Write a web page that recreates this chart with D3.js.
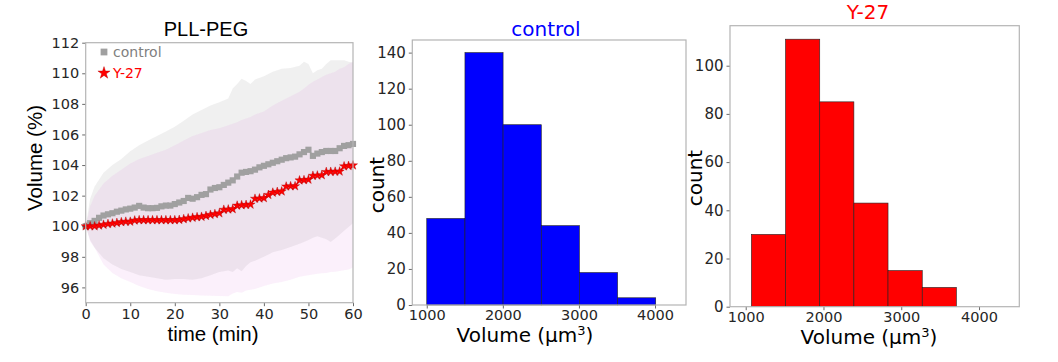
<!DOCTYPE html>
<html>
<head>
<meta charset="utf-8">
<script src="https://cdn.jsdelivr.net/npm/d3@7"></script>
<style>
  body { margin: 0; background: #fff; }
  svg { display: block; }
</style>
</head>
<body>
<svg id="vis"></svg>
<script>
const WIDTH = 1058;
const HEIGHT = 362;

// ---- panel 1 : volume (%) over time ----
const minutes = d3.range(0, 61);
const controlMean = [
  100.0, 100.2, 100.35, 100.55, 100.7, 100.78, 100.85, 100.95, 101.02, 101.1,
  101.15, 101.22, 101.33, 101.22, 101.18, 101.18, 101.2, 101.3, 101.35, 101.35,
  101.45, 101.55, 101.65, 101.85, 101.8, 101.9, 102.05, 102.1, 102.4, 102.5,
  102.55, 102.7, 102.85, 103.0, 103.25, 103.5, 103.55, 103.6, 103.7, 103.85,
  103.95, 104.05, 104.15, 104.25, 104.35, 104.45, 104.5, 104.55, 104.7, 104.85,
  105.0, 104.6, 104.75, 104.85, 104.92, 104.92, 104.92, 105.1, 105.25, 105.3,
  105.38
];
const y27Mean = [
  100.0, 100.0, 100.0, 100.05, 100.1, 100.15, 100.18, 100.22, 100.27, 100.3,
  100.3, 100.38, 100.4, 100.4, 100.4, 100.4, 100.4, 100.4, 100.4, 100.4,
  100.4, 100.42, 100.47, 100.52, 100.56, 100.6, 100.62, 100.68, 100.75, 100.8,
  100.85, 101.08, 101.1, 101.12, 101.35, 101.38, 101.4, 101.42, 101.8, 101.82,
  101.84, 102.05, 102.2, 102.25, 102.28, 102.6, 102.62, 102.62, 103.0, 103.02,
  103.05, 103.3, 103.32, 103.34, 103.55, 103.56, 103.57, 103.58, 103.92, 103.95,
  103.98
];

// mean +/- std envelopes, read at these times
const bandTime = [0, 1, 2, 4, 6, 8, 10, 12, 14, 16, 18, 20, 22, 24, 26, 28, 30, 32, 33, 34, 35,
  36, 37, 38, 40, 42, 44, 46, 48, 49, 50, 51, 52, 53, 54, 55, 56, 57, 58, 59, 60];
const controlUpper = [100.0, 101.8, 102.6, 103.5, 104.0, 104.4, 104.9, 105.3, 105.6, 105.9, 106.2,
  106.5, 106.9, 107.3, 107.6, 107.9, 108.1, 108.35, 109.0, 109.3, 109.65, 109.5, 109.3, 109.6,
  109.8, 110.1, 110.3, 110.35, 110.5, 110.75, 110.6, 110.0, 110.2, 110.3, 110.6, 110.85, 110.85,
  110.85, 110.85, 110.75, 110.7];
const controlLower = [100.0, 99.1, 98.6, 97.9, 97.5, 97.2, 97.0, 96.8, 96.7, 96.6, 96.5, 96.55,
  96.55, 96.5, 96.6, 96.8, 97.0, 97.1, 97.0, 97.25, 97.05, 97.4, 97.65, 97.75, 98.0, 98.3, 98.45,
  98.65, 98.85, 98.97, 99.1, 99.25, 99.35, 99.25, 99.15, 98.97, 99.2, 99.45, 99.7, 99.95, 100.2];
const y27Upper = [100.0, 101.3, 102.0, 102.8, 103.3, 103.7, 104.1, 104.4, 104.6, 104.8, 105.0,
  105.3, 105.6, 105.9, 106.1, 106.3, 106.4, 106.6, 106.7, 106.8, 106.95, 107.05, 107.15, 107.3,
  107.5, 107.9, 108.2, 108.5, 108.8, 109.0, 109.25, 109.45, 109.6, 109.75, 109.9, 110.0, 110.1,
  110.3, 110.4, 110.6, 110.75];
const y27Lower = [100.0, 99.0, 98.6, 97.5, 96.95, 96.6, 96.36, 96.1, 95.9, 95.75, 95.65, 95.57,
  95.52, 95.5, 95.47, 95.45, 95.44, 95.42, 95.6, 95.7, 95.65, 95.8, 95.85, 95.9, 96.1, 96.25,
  96.36, 96.5, 96.7, 96.75, 96.8, 96.85, 96.9, 96.93, 96.95, 97.0, 97.02, 97.07, 97.12, 97.17,
  97.3];

const volTicks = [96, 98, 100, 102, 104, 106, 108, 110, 112];
const timeTicks = [0, 10, 20, 30, 40, 50, 60];

// ---- panels 2 and 3 : histograms ----
const controlEdges = [1000, 1502, 2003, 2505, 3006, 3508, 4009];
const controlCounts = [48, 140, 100, 44, 18, 4];
const y27Edges = [1073, 1512, 1952, 2391, 2830, 3270, 3709];
const y27Counts = [30, 111, 85, 43, 15, 8];
const volumeTicks = [1000, 2000, 3000, 4000];
const controlCountTicks = [0, 20, 40, 60, 80, 100, 120, 140];
const y27CountTicks = [0, 20, 40, 60, 80, 100];

const svg = d3.select("#vis")
  .attr("width", WIDTH)
  .attr("height", HEIGHT);

const SANS = "'DejaVu Sans', sans-serif";
const ARIAL = "'Liberation Sans', Arial, sans-serif";
const TICK_COLOR = "#262626";
const SPINE = "#b4b4b4";

function styleAxis(g, size) {
  g.select(".domain").remove();
  g.selectAll(".tick line").attr("stroke", "#444").attr("stroke-width", 0.8);
  g.selectAll(".tick text")
    .attr("font-family", SANS)
    .attr("font-size", size)
    .attr("fill", TICK_COLOR);
}

function frame(box) {
  svg.append("rect")
    .attr("x", box.left)
    .attr("y", box.top)
    .attr("width", box.right - box.left)
    .attr("height", box.bottom - box.top)
    .attr("fill", "none")
    .attr("stroke", SPINE)
    .attr("stroke-width", 1.2);
}

// ================= panel 1 =================
const p1 = { left: 85.7, right: 353, top: 42.7, bottom: 302.7 };
const x1 = d3.scaleLinear().domain([0, 60]).range([p1.left, p1.right]);
const y1 = d3.scaleLinear().domain([95, 112]).range([p1.bottom, p1.top]);

const bandArea = (upper, lower) => d3.area()
  .x((d, i) => x1(bandTime[i]))
  .y0((d, i) => y1(lower[i]))
  .y1((d, i) => y1(upper[i]));

const g1 = svg.append("g").attr("id", "panel1");

g1.append("path")
  .attr("d", bandArea(controlUpper, controlLower)(bandTime))
  .attr("fill", "#808080")
  .attr("fill-opacity", 0.12);

g1.append("path")
  .attr("d", bandArea(y27Upper, y27Lower)(bandTime))
  .attr("fill", "#da70d6")
  .attr("fill-opacity", 0.1);

const meanLine = values => d3.line()
  .x((d, i) => x1(minutes[i]))
  .y((d, i) => y1(values[i]));

g1.append("path")
  .attr("d", meanLine(controlMean)(minutes))
  .attr("fill", "none")
  .attr("stroke", "#a0a0a0")
  .attr("stroke-width", 1.5);

g1.selectAll(".sq")
  .data(minutes)
  .join("path")
  .attr("class", "sq")
  .attr("transform", (d, i) => `translate(${x1(d)},${y1(controlMean[i])})`)
  .attr("d", d3.symbol(d3.symbolSquare, 38)())
  .attr("fill", "#a0a0a0");

g1.append("path")
  .attr("d", meanLine(y27Mean)(minutes))
  .attr("fill", "none")
  .attr("stroke", "#ff0000")
  .attr("stroke-width", 1.2);

g1.selectAll(".star")
  .data(minutes)
  .join("path")
  .attr("class", "star")
  .attr("transform", (d, i) => `translate(${x1(d)},${y1(y27Mean[i])})`)
  .attr("d", d3.symbol(d3.symbolStar, 26)())
  .attr("fill", "#ff0000")
  .attr("stroke", "#b00000")
  .attr("stroke-width", 0.4);

frame(p1);

g1.append("g")
  .attr("transform", `translate(${p1.left},0)`)
  .call(d3.axisLeft(y1).tickValues(volTicks).tickSize(3.5).tickPadding(3))
  .call(g => styleAxis(g, 14.5));

g1.append("g")
  .attr("transform", `translate(0,${p1.bottom})`)
  .call(d3.axisBottom(x1).tickValues(timeTicks).tickSize(3.5).tickPadding(3))
  .call(g => styleAxis(g, 14.5));

// legend
g1.append("path")
  .attr("transform", "translate(104,52)")
  .attr("d", d3.symbol(d3.symbolSquare, 46)())
  .attr("fill", "#a0a0a0");
g1.append("text")
  .attr("x", 113).attr("y", 57)
  .attr("font-family", SANS).attr("font-size", 14)
  .attr("fill", "#808080")
  .text("control");
g1.append("path")
  .attr("transform", "translate(104,73)")
  .attr("d", d3.symbol(d3.symbolStar, 46)())
  .attr("fill", "#ff0000")
  .attr("stroke", "#b00000")
  .attr("stroke-width", 0.4);
g1.append("text")
  .attr("x", 113).attr("y", 78)
  .attr("font-family", SANS).attr("font-size", 14)
  .attr("fill", "#ff0000")
  .text("Y-27");

g1.append("text")
  .attr("x", 206).attr("y", 36)
  .attr("text-anchor", "middle")
  .attr("font-family", ARIAL).attr("font-size", 20)
  .attr("fill", "#000")
  .text("PLL-PEG");

g1.append("text")
  .attr("transform", "translate(42,158) rotate(-90)")
  .attr("text-anchor", "middle")
  .attr("font-family", ARIAL).attr("font-size", 20.5)
  .attr("fill", "#000")
  .text("Volume (%)");

g1.append("text")
  .attr("x", 213).attr("y", 341)
  .attr("text-anchor", "middle")
  .attr("font-family", ARIAL).attr("font-size", 20.5)
  .attr("fill", "#000")
  .text("time (min)");

// ================= histograms =================
function histogram(opts) {
  const box = opts.box;
  const x = d3.scaleLinear().domain(opts.xDomain).range([box.left, box.right]);
  const y = d3.scaleLinear().domain(opts.yDomain).range([box.bottom, box.top]);
  const g = svg.append("g");

  g.selectAll("rect.bar")
    .data(opts.counts)
    .join("rect")
    .attr("class", "bar")
    .attr("x", (d, i) => x(opts.edges[i]))
    .attr("width", (d, i) => x(opts.edges[i + 1]) - x(opts.edges[i]))
    .attr("y", d => y(d))
    .attr("height", d => y(0) - y(d))
    .attr("fill", opts.color)
    .attr("stroke", "#222")
    .attr("stroke-width", 0.6);

  frame(box);

  g.append("g")
    .attr("transform", `translate(${box.left},0)`)
    .call(d3.axisLeft(y).tickValues(opts.yTicks).tickFormat(d3.format("d")).tickSize(3.5).tickPadding(3))
    .call(a => styleAxis(a, 15));

  g.append("g")
    .attr("transform", `translate(0,${box.bottom})`)
    .call(d3.axisBottom(x).tickValues(volumeTicks).tickFormat(d3.format("d")).tickSize(3.5).tickPadding(1.5))
    .call(a => styleAxis(a, 14.5));

  g.append("text")
    .attr("x", opts.titleX).attr("y", opts.titleY)
    .attr("text-anchor", "middle")
    .attr("font-family", SANS).attr("font-size", 20)
    .attr("fill", opts.color)
    .text(opts.title);

  g.append("text")
    .attr("transform", `translate(${opts.countX},${opts.countY}) rotate(-90)`)
    .attr("text-anchor", "middle")
    .attr("font-family", SANS).attr("font-size", 20)
    .attr("fill", "#000")
    .text("count");

  const xl = g.append("text")
    .attr("x", opts.volX).attr("y", opts.volY)
    .attr("text-anchor", "middle")
    .attr("font-family", SANS).attr("font-size", 20)
    .attr("fill", "#000");
  xl.append("tspan").text("Volume (μm");
  xl.append("tspan").attr("font-size", 13).attr("dy", -7).text("3");
  xl.append("tspan").attr("dy", 7).text(")");
}

histogram({
  box: { left: 412.3, right: 686, top: 40, bottom: 305 },
  xDomain: [810, 4407], yDomain: [0, 147],
  edges: controlEdges, counts: controlCounts, yTicks: controlCountTicks,
  color: "#0000ff", title: "control", titleX: 546, titleY: 36,
  countX: 384, countY: 185, volX: 525, volY: 342
});

histogram({
  box: { left: 730, right: 1019.3, top: 25.7, bottom: 306.7 },
  xDomain: [798, 4518], yDomain: [0, 116.6],
  edges: y27Edges, counts: y27Counts, yTicks: y27CountTicks,
  color: "#ff0000", title: "Y-27", titleX: 868, titleY: 19,
  countX: 702, countY: 178, volX: 869, volY: 344
});
</script>
</body>
</html>
